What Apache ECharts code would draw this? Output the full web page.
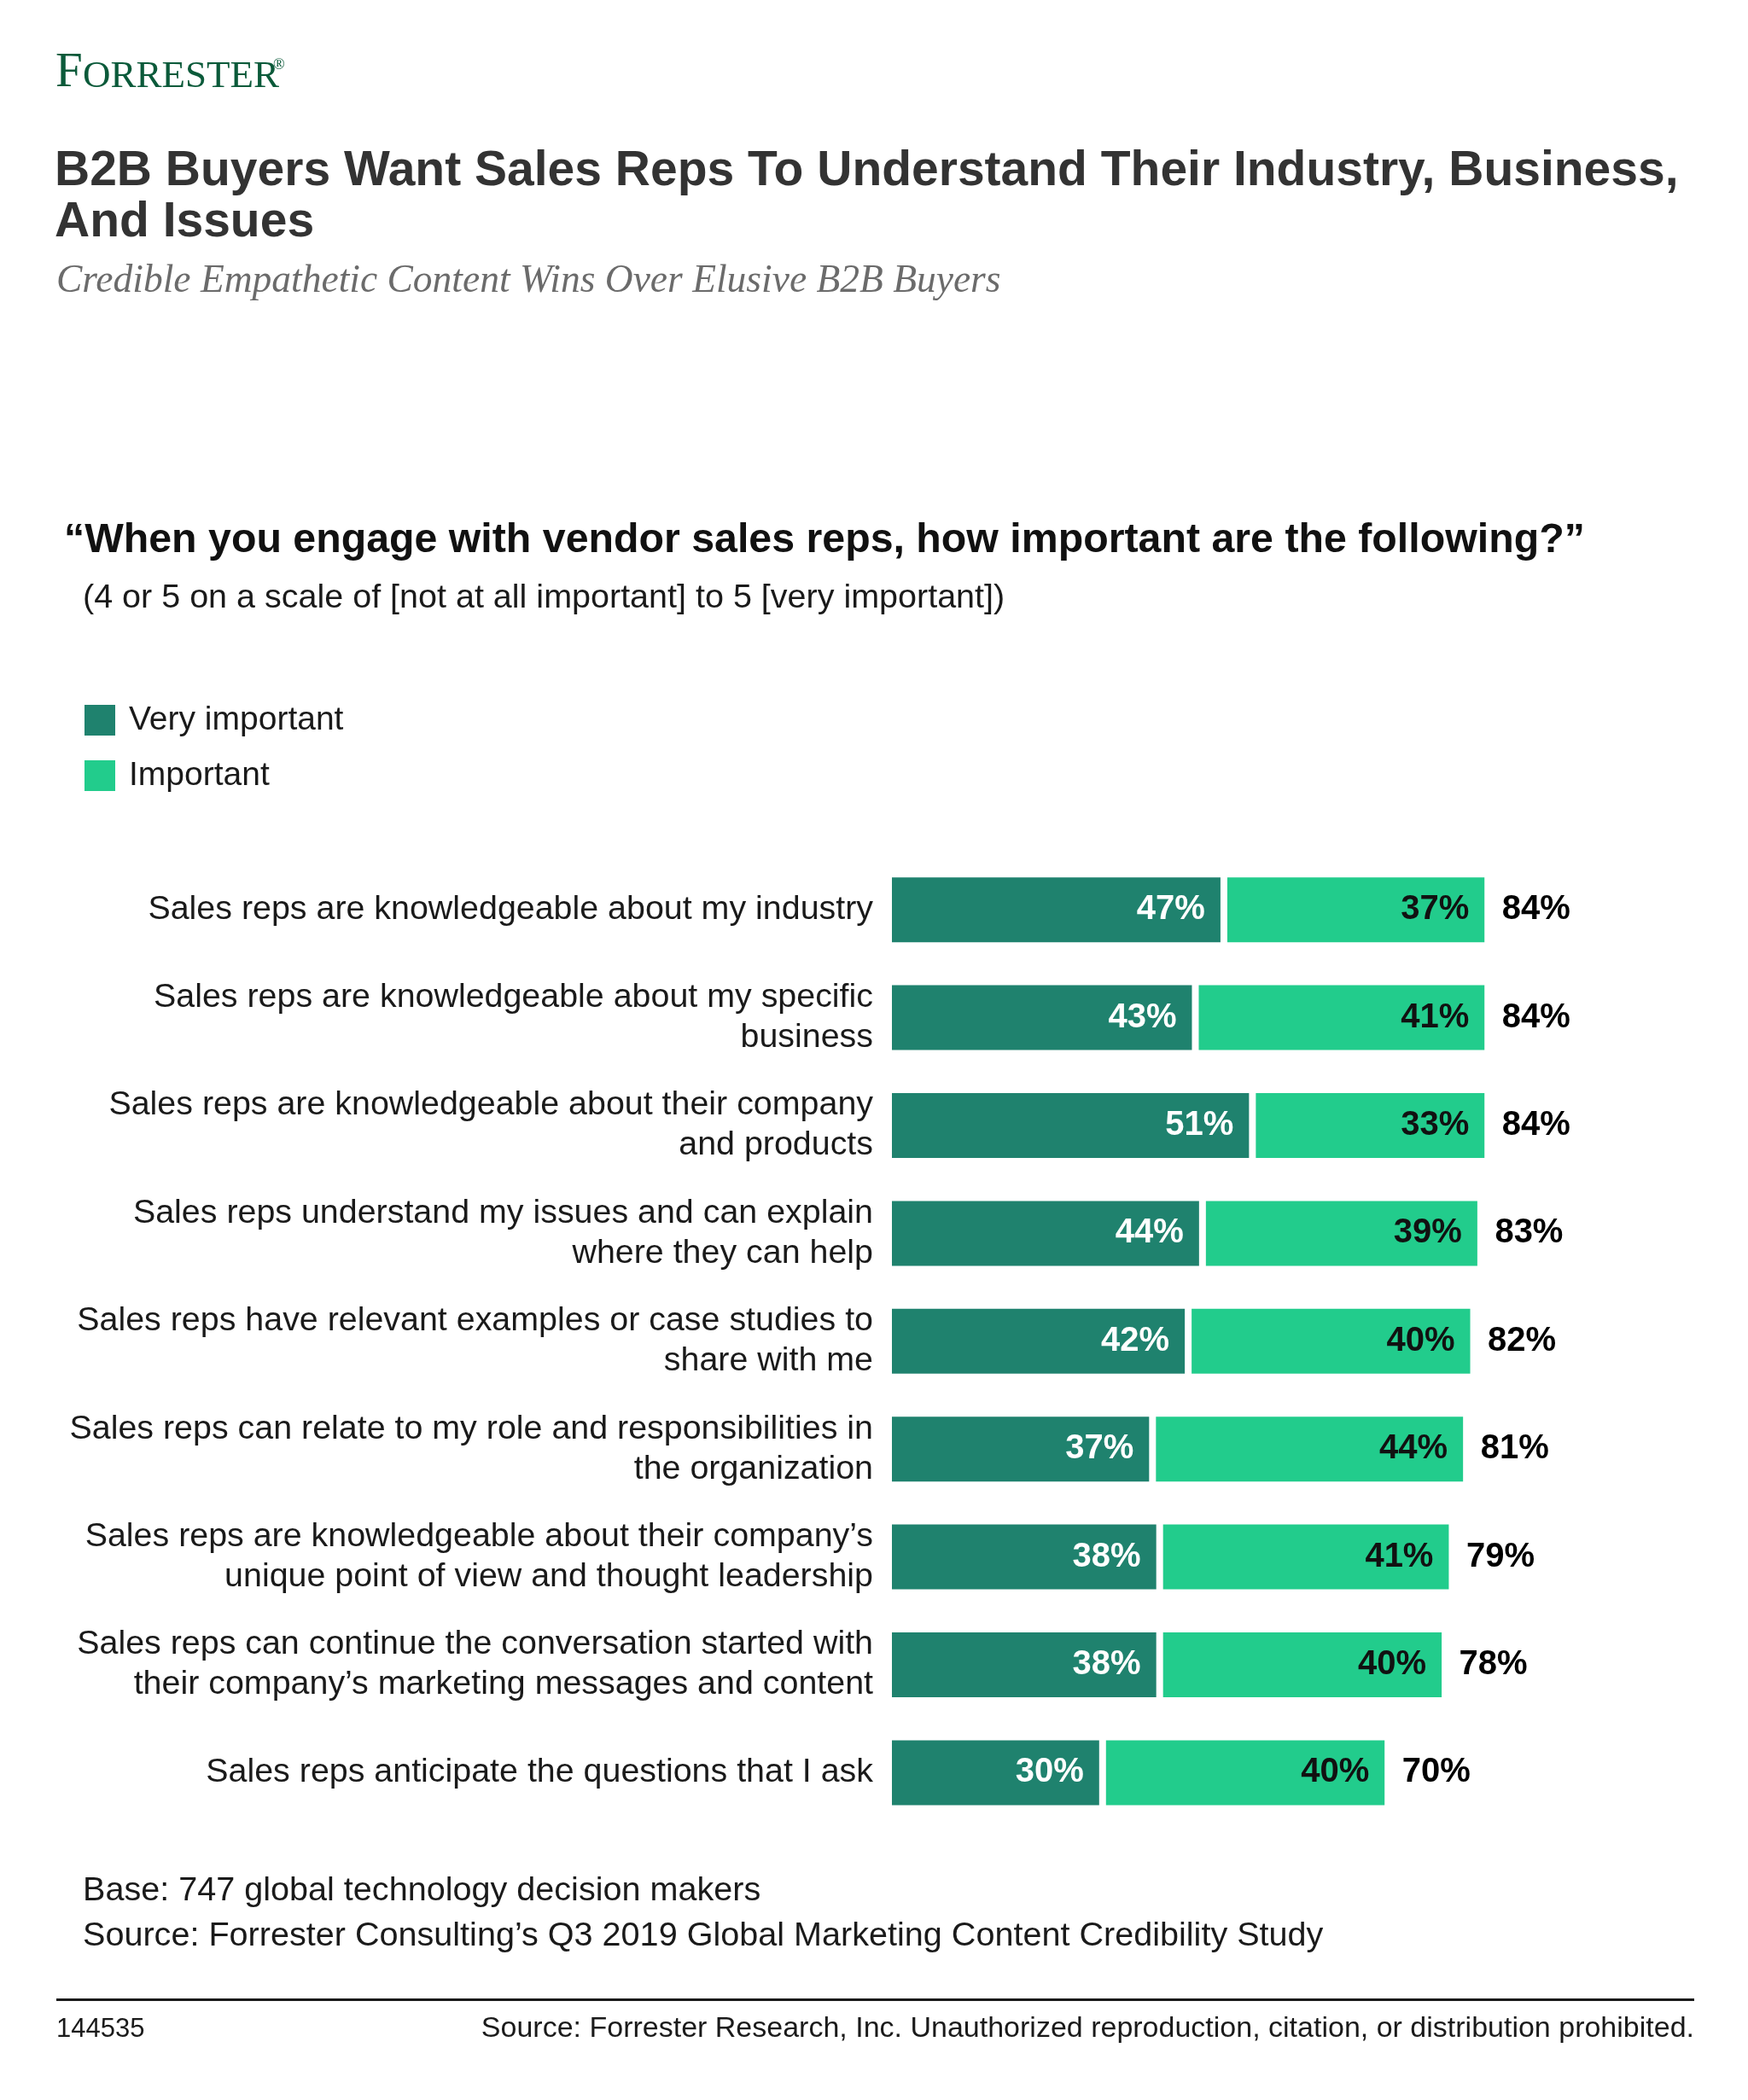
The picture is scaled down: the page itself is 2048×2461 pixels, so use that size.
<!DOCTYPE html>
<html><head><meta charset="utf-8">
<script src="https://cdn.jsdelivr.net/npm/echarts@6/dist/echarts.min.js"></script>
<style>html,body{margin:0;padding:0;background:#fff}#c{width:2048px;height:2461px}</style>
</head><body><div id="c"></div>
<script>
const categories = [
  "Sales reps are knowledgeable about my industry",
  "Sales reps are knowledgeable about my specific\nbusiness",
  "Sales reps are knowledgeable about their company\nand products",
  "Sales reps understand my issues and can explain\nwhere they can help",
  "Sales reps have relevant examples or case studies to\nshare with me",
  "Sales reps can relate to my role and responsibilities in\nthe organization",
  "Sales reps are knowledgeable about their company\u2019s\nunique point of view and thought leadership",
  "Sales reps can continue the conversation started with\ntheir company\u2019s marketing messages and content",
  "Sales reps anticipate the questions that I ask"
];
const veryImportant = [47, 43, 51, 44, 42, 37, 38, 38, 30];
const important = [37, 41, 33, 39, 40, 44, 41, 40, 40];
const totals = [84, 84, 84, 83, 82, 81, 79, 78, 70];

const FONT = "'Liberation Sans', Arial, Helvetica, sans-serif";
const SERIF = "'Liberation Serif', 'Times New Roman', serif";
const DARK = '#1f826e', LIGHT = '#22cc8c';

const chart = echarts.init(document.getElementById('c'), null, {renderer: 'canvas'});
function txt(text, x, y, size, opts) {
  opts = opts || {};
  return {
    type: 'text', x: x, y: y, silent: true,
    style: {
      text: text,
      font: (opts.italic ? 'italic ' : '') + (opts.bold ? 'bold ' : '') + size + 'px ' + (opts.family || FONT),
      fill: opts.color || '#1a1a1a',
      textAlign: opts.align || 'left', align: opts.align || 'left',
      textVerticalAlign: 'middle', verticalAlign: 'middle'
    }
  };
}
const option = {
  backgroundColor: '#fff',
  animation: false,
  textStyle: {fontFamily: FONT},
  graphic: [
    txt('F', 65, 86, 57, {family: SERIF, color: '#0b5a3a'}),
    txt('ORRESTER', 97, 90, 45, {family: SERIF, color: '#0b5a3a'}),
    txt('\u00ae', 320, 76, 18, {family: SERIF, color: '#0b5a3a'}),
    txt('B2B Buyers Want Sales Reps To Understand Their Industry, Business,', 64, 201, 57, {bold: true, color: '#333333'}),
    txt('And Issues', 64, 261, 57, {bold: true, color: '#333333'}),
    txt('Credible Empathetic Content Wins Over Elusive B2B Buyers', 66, 330, 45.5, {italic: true, family: SERIF, color: '#6b6b6b'}),
    txt('\u201cWhen you engage with vendor sales reps, how important are the following?\u201d', 75, 634, 48.3, {bold: true, color: '#111'}),
    txt('(4 or 5 on a scale of [not at all important] to 5 [very important])', 97, 701, 39.5, {color: '#1a1a1a'}),
    txt('Base: 747 global technology decision makers', 97, 2216, 39.6, {color: '#1a1a1a'}),
    txt('Source: Forrester Consulting\u2019s Q3 2019 Global Marketing Content Credibility Study', 97, 2269, 39.6, {color: '#1a1a1a'}),
    {type: 'rect', silent: true, shape: {x: 66, y: 2342, width: 1919, height: 3}, style: {fill: '#1a1a1a'}},
    txt('144535', 66, 2378, 31, {color: '#1a1a1a'}),
    txt('Source: Forrester Research, Inc. Unauthorized reproduction, citation, or distribution prohibited.', 1985, 2378, 34, {align: 'right', color: '#1a1a1a'})
  ],
  legend: {
    data: ['Very important', 'Important'],
    orient: 'vertical', left: 97, top: 824, padding: 0,
    itemWidth: 38, itemHeight: 38, itemGap: 25, icon: 'rect',
    selectedMode: false,
    textStyle: {fontSize: 39, color: '#1a1a1a', fontFamily: FONT, padding: [0, 0, 0, 10]}
  },
  grid: {left: 1041, width: 836, top: 1003, height: 1137.6, containLabel: false},
  xAxis: {type: 'value', min: 0, max: 100, show: false},
  yAxis: {
    type: 'category', data: categories, inverse: true,
    axisLine: {show: false}, axisTick: {show: false}, splitLine: {show: false},
    axisLabel: {fontSize: 39.4, lineHeight: 47, color: '#1a1a1a', margin: 18, align: 'right', fontFamily: FONT}
  },
  series: [
    {
      name: 'Very important', type: 'bar', stack: 's', data: veryImportant, barWidth: 84,
      itemStyle: {color: DARK, borderColor: '#fff', borderWidth: 4},
      label: {show: true, position: 'insideRight', distance: 22, formatter: '{c}%', color: '#fff', fontSize: 40, fontWeight: 'bold', fontFamily: FONT}
    },
    {
      name: 'Important', type: 'bar', stack: 's', data: important, barWidth: 84,
      itemStyle: {color: LIGHT, borderColor: '#fff', borderWidth: 4},
      label: {show: true, position: 'insideRight', distance: 22, formatter: '{c}%', color: '#111', fontSize: 40, fontWeight: 'bold', fontFamily: FONT}
    },
    {
      name: 'Total', type: 'scatter', silent: true, symbolSize: 1,
      data: totals.map((t, i) => [t, categories[i]]),
      itemStyle: {color: 'rgba(0,0,0,0)', opacity: 1},
      label: {show: true, position: 'right', distance: 16, formatter: p => p.value[0] + '%', color: '#000', fontSize: 40, fontWeight: 'bold', fontFamily: FONT, opacity: 1}
    }
  ]
};
chart.setOption(option);
</script></body></html>
